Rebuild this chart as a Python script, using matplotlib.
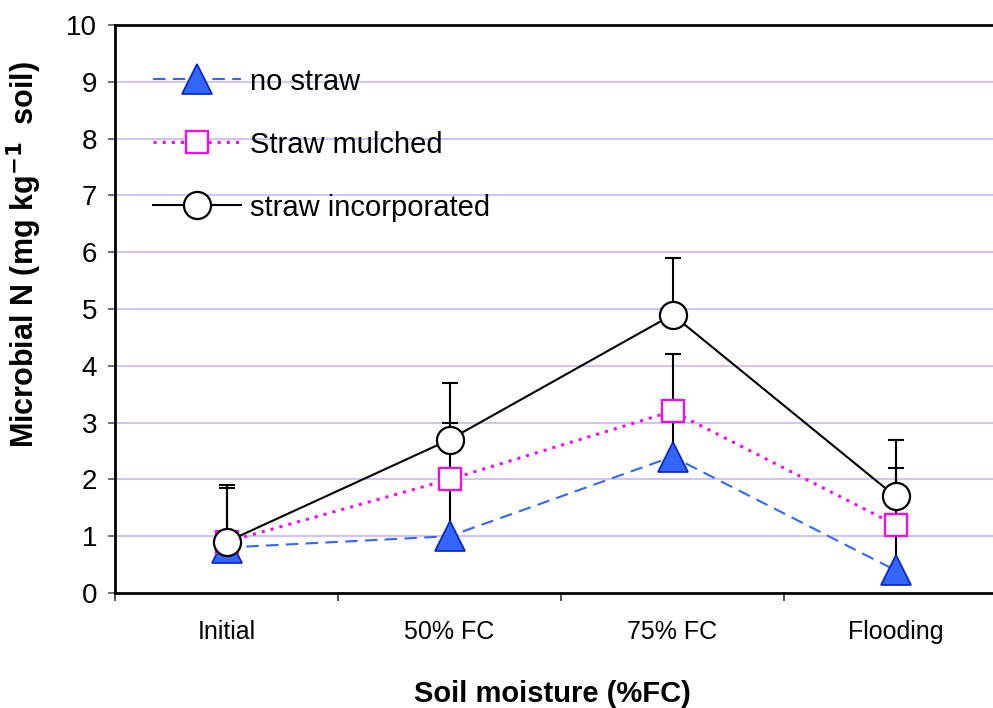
import matplotlib.pyplot as plt
from matplotlib.lines import Line2D
import numpy as np

plt.rcParams['font.family'] = ['Liberation Sans', 'DejaVu Sans']

categories = ["Initial", "50% FC", "75% FC", "Flooding"]

no_straw = [0.8, 1.0, 2.4, 0.4]
no_straw_err = [0.3, 1.0, 0.9, 0.8]

mulched = [0.9, 2.0, 3.2, 1.2]
mulched_err = [0.95, 1.0, 1.0, 1.0]

incorporated = [0.9, 2.7, 4.9, 1.7]
incorporated_err = [1.0, 1.0, 1.0, 1.0]

x = np.arange(len(categories))

fig = plt.figure(figsize=(9.93, 7.08), dpi=100)
# plot area runs past the right edge of the figure
ax = fig.add_axes([115 / 993, 115 / 708, 892 / 993, 568 / 708])

series = [
    dict(y=no_straw, err=no_straw_err, label="no straw", color="#3366FF",
         ls=(0, (6, 3.5)), lw=1.5, marker="^", ms=21, mfc="#3366FF", mec="#0022CC", mew=1.2),
    dict(y=mulched, err=mulched_err, label="Straw mulched", color="#FF00FF",
         ls=(0, (1, 2)), lw=2.2, marker="s", ms=16, mfc="white", mec="#FF00FF", mew=1.6),
    dict(y=incorporated, err=incorporated_err, label="straw incorporated", color="black",
         ls="-", lw=1.5, marker="o", ms=19.5, mfc="white", mec="black", mew=1.6),
]

handles = []
for i, s in enumerate(series):
    ax.plot(x, s["y"], color=s["color"], linestyle=s["ls"], linewidth=s["lw"], zorder=2)
    ax.errorbar(x, s["y"], yerr=[np.zeros(len(x)), s["err"]], fmt="none",
                ecolor="black", elinewidth=1.5, capsize=6, capthick=1.5, zorder=3)
    ax.plot(x, s["y"], linestyle="none", marker=s["marker"], markersize=s["ms"],
            markerfacecolor=s["mfc"], markeredgecolor=s["mec"],
            markeredgewidth=s["mew"], zorder=4 + i)
    handles.append(Line2D([], [], color=s["color"], linestyle=s["ls"], linewidth=s["lw"],
                          marker=s["marker"], markersize=s["ms"], markerfacecolor=s["mfc"],
                          markeredgecolor=s["mec"], markeredgewidth=s["mew"],
                          label=s["label"]))

ax.set_xlim(-0.5, 3.5)
ax.set_ylim(0, 10)
ax.set_yticks(np.arange(0, 11, 1))
ax.set_xticks(x)
ax.set_xticklabels(categories, fontsize=18)
ax.set_xticks(np.arange(-0.5, 4, 1), minor=True)
ax.tick_params(axis="x", which="major", length=0, pad=19.5)
ax.tick_params(axis="x", which="minor", length=6, width=1.2, color="#333333")
ax.tick_params(axis="y", labelsize=20, length=5, width=1.2, color="#555555", pad=8)

for y in range(1, 10):
    ax.axhline(y, color="#D4C4F6", linewidth=1.5, zorder=1)

for side in ["left", "bottom", "top"]:
    ax.spines[side].set_linewidth(2)
ax.spines["right"].set_visible(False)

ax.set_xlabel("Soil moisture (%FC)", fontsize=21, fontweight="bold")
ax.xaxis.set_label_coords(0.49, -0.153)
ax.set_ylabel(r"Microbial N (mg kg$^{\mathbf{-1}}$  soil)", fontsize=22,
              fontweight="bold")
ax.yaxis.set_label_coords(-0.08, 0.595)

ax.legend(handles=handles, loc="upper left", bbox_to_anchor=(0.043, 0.925),
          frameon=False, fontsize=21, handlelength=3.0, handletextpad=0.3,
          labelspacing=1.2, borderpad=0, borderaxespad=0)

fig.savefig("out.png", dpi=100)
